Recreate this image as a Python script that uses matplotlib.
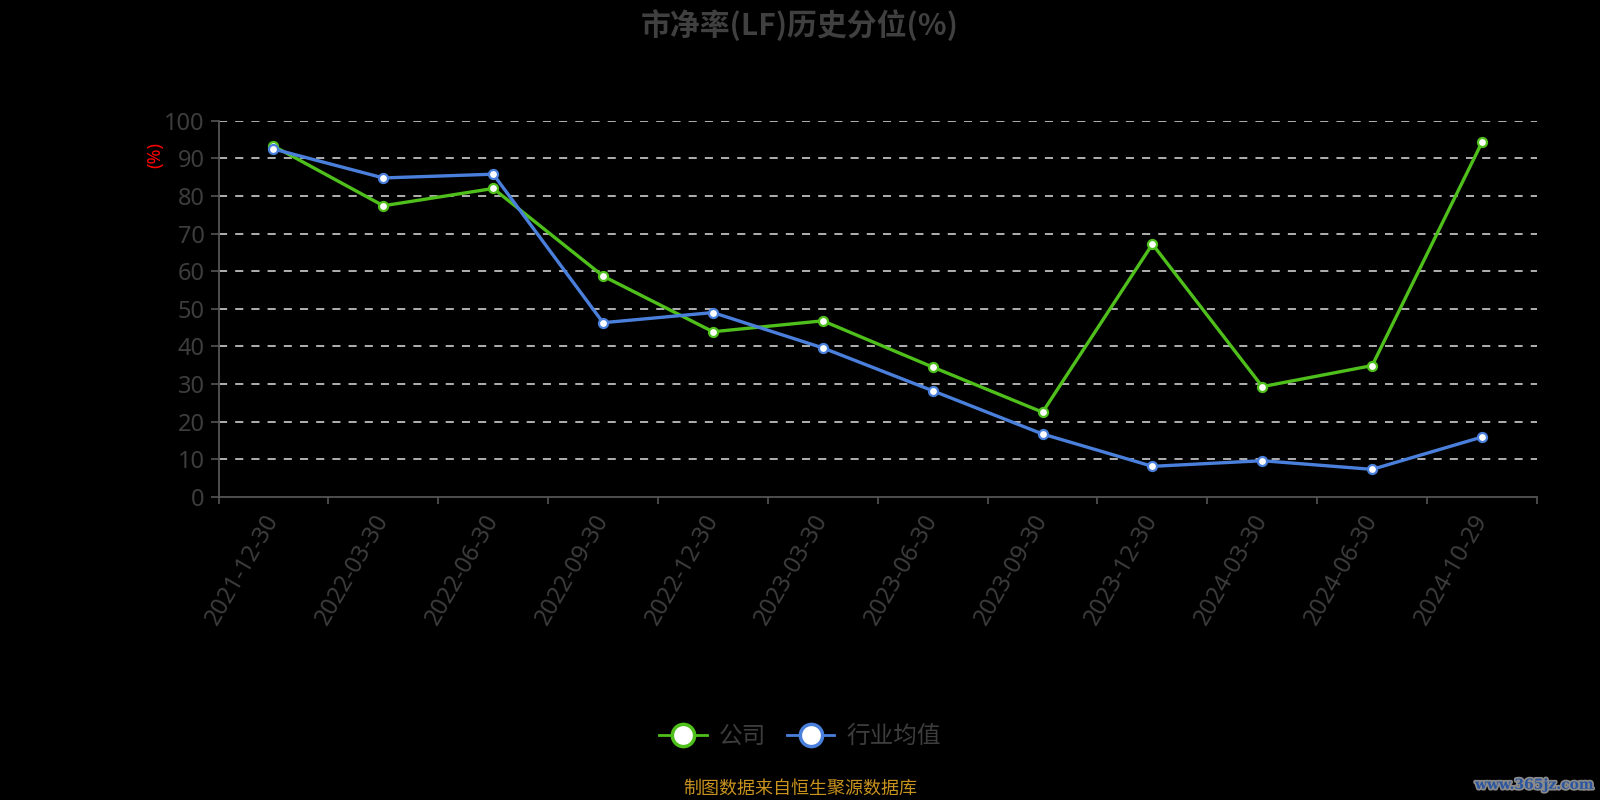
import matplotlib
matplotlib.use("Agg")
import matplotlib.pyplot as plt
import matplotlib.patheffects as pe
import matplotlib.transforms as mtransforms
from matplotlib.lines import Line2D

plt.rcParams['font.family'] = ['Noto Sans', 'Noto Sans CJK SC', 'DejaVu Sans']

categories = ["2021-12-30", "2022-03-30", "2022-06-30", "2022-09-30", "2022-12-30",
              "2023-03-30", "2023-06-30", "2023-09-30", "2023-12-30", "2024-03-30",
              "2024-06-30", "2024-10-29"]
company = [93.3, 77.4, 82.0, 58.7, 43.9, 46.8, 34.5, 22.5, 67.2, 29.3, 34.9, 94.3]
industry = [92.5, 84.8, 85.8, 46.3, 49.0, 39.6, 28.2, 16.7, 8.1, 9.6, 7.3, 15.9]
yticks = [0, 10, 20, 30, 40, 50, 60, 70, 80, 90, 100]
series_names = ["公司", "行业均值"]

green = '#4fbf1c'
blue = '#4a80dc'
txt = '#3d3d3d'
cjk = ['Noto Sans CJK SC', 'DejaVu Sans']

fig = plt.figure(figsize=(16, 8), dpi=100, facecolor='black')
ax = fig.add_axes([0.1366, 0.379, 0.8240, 0.470])
ax.set_facecolor('black')

x = list(range(len(categories)))
ax.plot(x, company, color=green, lw=2.4, marker='o', ms=6.5, mfc='white', mec=green, mew=1.6, zorder=3)
ax.plot(x, industry, color=blue, lw=2.4, marker='o', ms=6.5, mfc='white', mec=blue, mew=1.6, zorder=4)

ax.set_xlim(-0.5, len(categories) - 0.5)
ax.set_ylim(0, 100)
ax.set_yticks(yticks)
ax.set_yticklabels([str(v) for v in yticks], color=txt, fontsize=17)
for v in yticks[1:]:
    ax.axhline(v, color='#e0e0e0', lw=1.1, dashes=(5.3, 5.3), zorder=1)

ax.set_xticks([i - 0.5 for i in range(len(categories) + 1)], minor=False)
ax.set_xticklabels([])
ax.set_xticks(x, minor=True)
ax.set_xticklabels(categories, minor=True, rotation=60, ha='right', va='center',
                   rotation_mode='anchor', color=txt, fontsize=17)
off = mtransforms.ScaledTranslation(-2 / 100, 0, fig.dpi_scale_trans)
for lab in ax.get_xticklabels(minor=True):
    lab.set_transform(lab.get_transform() + off)
ax.tick_params(axis='x', which='minor', length=0, pad=14)
ax.tick_params(axis='x', which='major', length=5, color='#555555', width=1.2)
ax.tick_params(axis='y', length=6, color='#555555', width=1.2, pad=4)

for s in ['top', 'right']:
    ax.spines[s].set_visible(False)
for s in ['left', 'bottom']:
    ax.spines[s].set_color('#555555')
    ax.spines[s].set_linewidth(1.3)

fig.text(0.0969, 0.806, "(%)", color='red', fontsize=13, rotation=90, ha='center', va='center')

fig.text(0.5, 0.969, "市净率(LF)历史分位(%)", color='#404040', fontsize=21.5,
         fontweight='bold', ha='center', va='center', family=cjk)

handles = [Line2D([0], [0], color=green, lw=2, marker='o', ms=16, mfc='white', mec=green, mew=2.5),
           Line2D([0], [0], color=blue, lw=2, marker='o', ms=16, mfc='white', mec=blue, mew=2.5)]
leg = fig.legend(handles, series_names, loc='center', bbox_to_anchor=(0.5, 0.079), ncol=2,
                 frameon=False, prop={'family': cjk, 'size': 17}, handlelength=2.0,
                 columnspacing=0.9, handletextpad=0.5)
for t in leg.get_texts():
    t.set_color(txt)

fig.text(0.5, 0.014, "制图数据来自恒生聚源数据库", color='#c8921e', fontsize=13,
         ha='center', va='center', family=cjk)

fig.text(0.996, 0.019, "www.365jz.com", color='#2a559f', fontsize=10, fontweight='bold',
         family='DejaVu Serif', ha='right', va='center',
         path_effects=[pe.withStroke(linewidth=2.5, foreground='#8a8a8a')])

fig.savefig("out.png", dpi=100, facecolor='black')
